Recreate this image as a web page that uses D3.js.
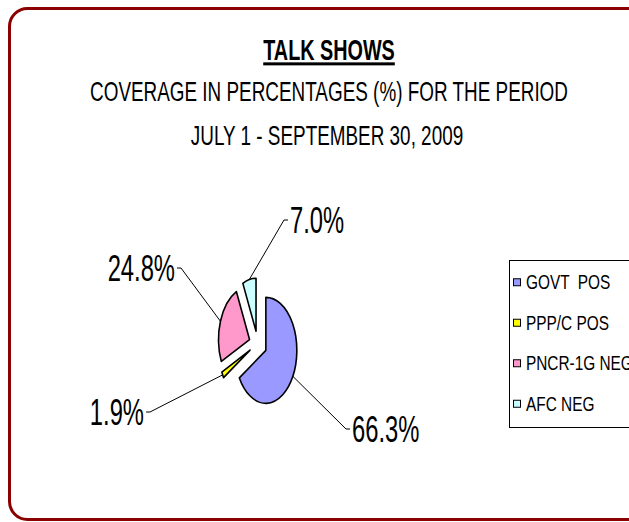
<!DOCTYPE html>
<html>
<head>
<meta charset="utf-8">
<script src="https://cdn.jsdelivr.net/npm/d3@7"></script>
<style>
  body { margin:0; background:#fff; }
  text { font-family: "Liberation Sans", Arial, sans-serif; white-space: pre; }
</style>
</head>
<body>
<div id="chart"></div>
<script>
// data
var categories = ["GOVT  POS", "PPP/C POS", "PNCR-1G NEG", "AFC NEG"];
var percentages = [66.3, 1.9, 24.8, 7.0];
var sliceColors = ["#9999FF", "#FFFF00", "#FF99CC", "#CCFFFF"];
var chartTitle = "TALK SHOWS";
var subTitles = ["COVERAGE IN PERCENTAGES (%) FOR THE PERIOD", "JULY 1 - SEPTEMBER 30, 2009"];

// layout
var W = 629, H = 522;
var squeeze = 0.66;             // condensed look of the original font
var cx = 258, cy = 344, ry = 53, rx = 31;
var explodeX = 9, explodeY = 13;
// leader elbows for each label, and which side the text goes
var labelElbows = [[346, 429], [150, 412], [181, 268], [284, 220]];
var labelSide = ["right", "left", "left", "right"];

var svg = d3.select("#chart").append("svg")
    .attr("width", W).attr("height", H);

// rounded frame, right edge runs off the page
svg.append("rect")
    .attr("x", 9.5).attr("y", 8.5)
    .attr("width", 660).attr("height", 511)
    .attr("rx", 18).attr("ry", 18)
    .attr("fill", "none")
    .attr("stroke", "#8B0000")
    .attr("stroke-width", 3);

function squeezedText(g, x, y, str, size, anchor, weight, sq) {
  var t = g.append("g").attr("transform", "translate(" + x + "," + y + ") scale(" + (sq || squeeze) + ",1)")
    .append("text")
    .attr("text-anchor", anchor || "start")
    .attr("font-size", size)
    .attr("font-weight", weight || "normal")
    .attr("fill", "#000")
    .text(str);
  return t;
}

// titles
var tx = 329;
squeezedText(svg, tx, 60, chartTitle, 30, "middle", "bold")
    .attr("text-decoration", "underline");
squeezedText(svg, tx, 101, subTitles[0], 28, "middle", null, 0.675);
squeezedText(svg, tx - 2, 145, subTitles[1], 28, "middle", null, 0.675);

// pie
var pie = d3.pie().sort(null).value(function(d){ return d; });
var arcs = pie(percentages);
var arc = d3.arc().innerRadius(0).outerRadius(ry);

var slices = svg.append("g").attr("class", "pie");
arcs.forEach(function(a, i){
  var mid = (a.startAngle + a.endAngle) / 2;
  var ox = cx + explodeX * Math.sin(mid);
  var oy = cy - explodeY * Math.cos(mid);
  slices.append("g")
    .attr("transform", "translate(" + ox + "," + oy + ") scale(" + (rx / ry) + ",1)")
    .append("path")
    .attr("d", arc(a))
    .attr("fill", sliceColors[i])
    .attr("stroke", "#000")
    .attr("stroke-width", 1.6)
    .attr("vector-effect", "non-scaling-stroke")
    .attr("stroke-linejoin", "round");

  // leader line from slice edge at mid-angle
  var sx = ox + rx * Math.sin(mid), sy = oy - ry * Math.cos(mid);
  var e = labelElbows[i];
  var dir = labelSide[i] == "right" ? 1 : -1;
  svg.append("polyline")
    .attr("points", [[sx, sy], e, [e[0] + dir * 4, e[1]]].map(function(p){ return p.join(","); }).join(" "))
    .attr("fill", "none")
    .attr("stroke", "#000")
    .attr("stroke-width", 1);
  squeezedText(svg, e[0] + dir * 6, e[1] + 13, d3.format(".1f")(percentages[i]) + "%", 36,
      dir > 0 ? "start" : "end");
});

// legend
var legY = d3.scaleBand().domain(categories).range([262, 424]);
var legend = svg.append("g").attr("class", "legend");
legend.append("rect")
    .attr("x", 509.5).attr("y", 260.5)
    .attr("width", 150).attr("height", 167)
    .attr("fill", "#fff")
    .attr("stroke", "#000")
    .attr("stroke-width", 1);
categories.forEach(function(c, i){
  var yc = legY(c) + legY.bandwidth() / 2;
  legend.append("rect")
    .attr("x", 513.5).attr("y", yc - 3.5)
    .attr("width", 7).attr("height", 7)
    .attr("fill", sliceColors[i])
    .attr("stroke", "#000")
    .attr("stroke-width", 1);
  squeezedText(legend, 526, yc + 7, c, 20, "start", null, 0.77);
});
</script>
</body>
</html>
